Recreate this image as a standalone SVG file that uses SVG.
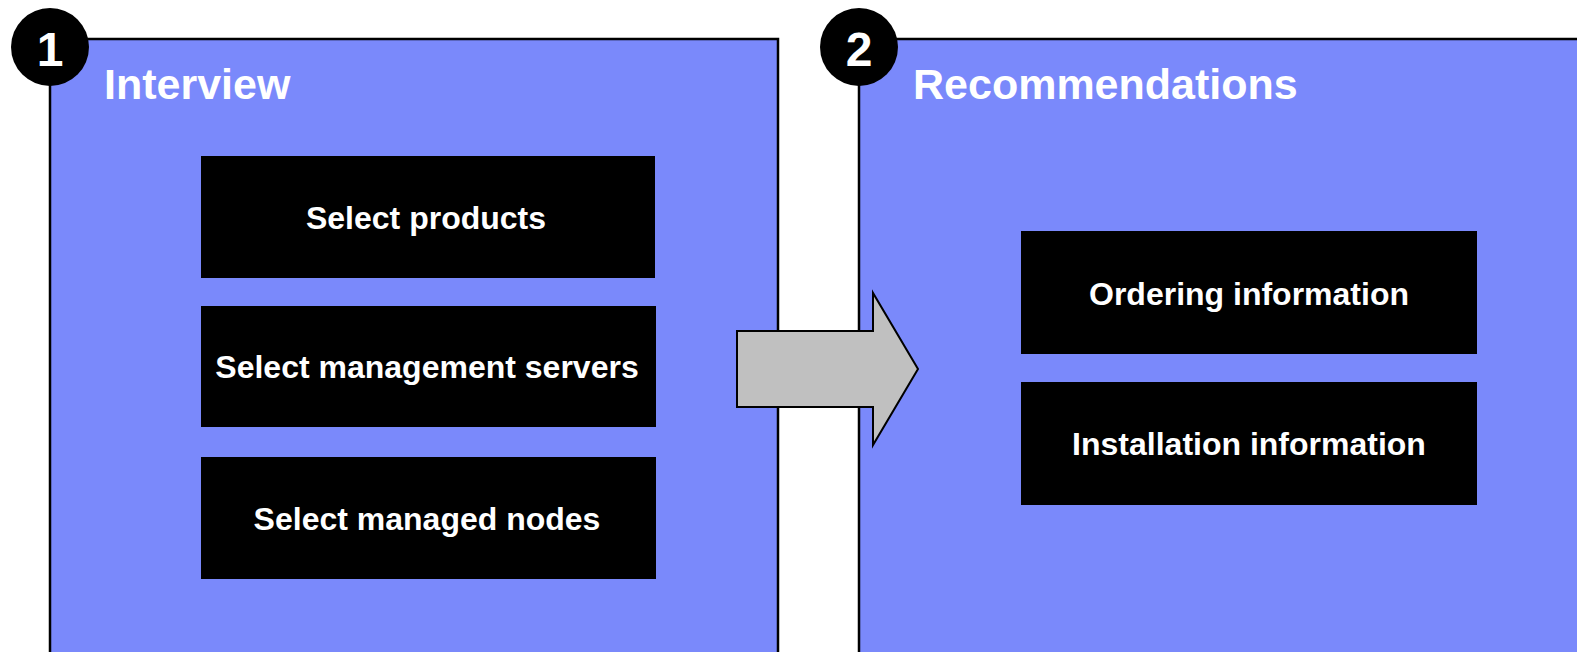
<svg xmlns="http://www.w3.org/2000/svg" width="1577" height="652" viewBox="0 0 1577 652">
<style>
.panel{fill:#7A89FB;stroke:#000;stroke-width:2.5}
.box{fill:#000}
.badge{fill:#000}
.num{font-family:"Liberation Sans",Arial,sans-serif;font-weight:bold;font-size:48px;fill:#fff;text-anchor:middle}
.title{font-family:"Liberation Sans",Arial,sans-serif;font-weight:bold;font-size:43px;fill:#fff}
.lbl{font-family:"Liberation Sans",Arial,sans-serif;font-weight:bold;font-size:32px;fill:#fff;text-anchor:middle}
.arrow{fill:#C0C0C0;stroke:#000;stroke-width:2;stroke-linejoin:miter}
</style>
<rect width="1577" height="652" fill="#fff"/>
<g id="panel-interview">
<rect class="panel" x="50" y="39" width="728" height="640"/>
<circle class="badge" cx="50" cy="47" r="39"/>
<text class="num" x="50" y="66">1</text>
<text class="title" x="104" y="99">Interview</text>
</g>
<g id="panel-recommendations">
<rect class="panel" x="859" y="39" width="740" height="640"/>
<circle class="badge" cx="859" cy="47" r="39"/>
<text class="num" x="859" y="66">2</text>
<text class="title" x="913" y="99">Recommendations</text>
</g>
<g id="node-select-products">
<rect class="box" x="201" y="156" width="454" height="122"/>
<text class="lbl" x="426" y="229">Select products</text>
</g>
<g id="node-select-management-servers">
<rect class="box" x="201" y="306" width="455" height="121"/>
<text class="lbl" x="427" y="378">Select management servers</text>
</g>
<g id="node-select-managed-nodes">
<rect class="box" x="201" y="457" width="455" height="122"/>
<text class="lbl" x="427" y="530">Select managed nodes</text>
</g>
<g id="node-ordering-information">
<rect class="box" x="1021" y="231" width="456" height="123"/>
<text class="lbl" x="1249" y="305">Ordering information</text>
</g>
<g id="node-installation-information">
<rect class="box" x="1021" y="382" width="456" height="123"/>
<text class="lbl" x="1249" y="455">Installation information</text>
</g>
<g id="connectors">
<polygon class="arrow" points="737,331 873,331 873,293 918,369 873,445 873,407 737,407"/>
</g>
</svg>
